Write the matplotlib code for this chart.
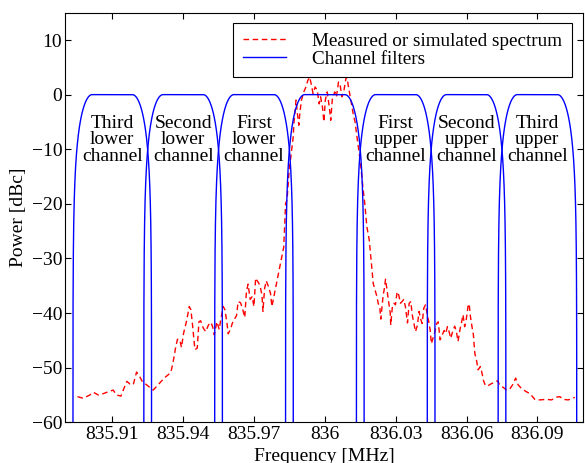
import numpy as np
import matplotlib
matplotlib.use("Agg")
import matplotlib.pyplot as plt

plt.rcParams['font.family'] = ['Liberation Serif', 'DejaVu Serif']
plt.rcParams['font.size'] = 14

# spectrum: offset from 836 MHz in kHz, power in dBc
spec_khz = [
    -104.7, -102.3, -99.5, -98.0, -95.9, -93.4, -91.7, -89.6, -88.2, -86.3,
    -84.6, -83.8, -82.5, -81.1, -79.7, -78.3, -77.3, -75.0, -74.1, -72.7,
    -72.0, -68.8, -68.0, -66.3, -65.2, -64.2, -63.2, -62.4, -61.4, -60.7,
    -59.8, -58.5, -57.4, -56.7, -56.0, -55.4, -55.0, -54.0, -53.3, -52.6,
    -51.4, -50.4, -49.3, -48.2, -47.5, -46.8, -45.7, -44.7, -44.1, -43.0,
    -42.3, -41.5, -40.9, -39.8, -39.2, -38.1, -37.4, -36.7, -35.7, -34.9,
    -33.9, -33.2, -32.5, -31.6, -30.8, -30.0, -29.3, -28.3, -27.5, -26.6,
    -26.2, -25.5, -24.8, -23.8, -23.0, -22.4, -21.3, -20.5, -19.6, -18.8,
    -17.4, -16.6, -16.0, -15.1, -14.4, -13.4, -13.1, -12.2, -11.6, -11.0,
    -10.6, -9.9, -8.9, -8.0, -7.2, -6.4, -5.5, -5.0, -4.1, -3.2,
    -2.4, -1.8, -1.0, -0.4, 0.2, 1.0, 1.9, 2.5, 3.2, 4.2,
    4.9, 5.8, 6.4, 7.2, 8.0, 8.9, 9.4, 10.0, 10.9, 12.0,
    12.8, 13.8, 14.5, 15.4, 16.1, 16.9, 17.8, 18.8, 19.6, 20.5,
    21.5, 22.0, 22.6, 23.3, 23.7, 24.7, 25.1, 25.7, 26.5, 27.1,
    27.7, 27.9, 28.6, 29.3, 29.9, 30.6, 31.3, 32.0, 32.7, 33.4,
    34.1, 35.0, 35.7, 36.4, 37.0, 37.7, 38.4, 39.2, 39.9, 40.5,
    41.2, 41.9, 42.6, 43.3, 44.0, 44.6, 45.1, 45.8, 46.6, 47.4,
    48.0, 48.8, 49.7, 50.5, 51.2, 51.9, 52.6, 53.3, 54.3, 55.0,
    55.7, 56.4, 57.3, 57.8, 58.5, 59.2, 59.9, 60.6, 61.1, 61.6,
    62.3, 62.9, 63.5, 64.2, 64.9, 65.8, 66.4, 67.2, 68.0, 69.1,
    70.2, 71.7, 73.1, 74.2, 75.5, 76.9, 78.3, 79.7, 80.8, 81.8,
    83.2, 85.3, 86.7, 88.9, 91.0, 93.8, 96.0, 98.0, 99.5, 100.9,
    103.0, 105.1, 105.8,
]
spec_db = [
    -55.3, -55.6, -55.0, -54.5, -55.0, -54.7, -54.4, -54.1, -55.0, -55.2,
    -53.3, -52.5, -53.0, -53.1, -50.8, -51.7, -52.5, -53.3, -53.6, -54.1,
    -53.8, -52.3, -51.9, -51.3, -50.9, -48.9, -46.4, -44.8, -44.9, -46.3,
    -43.7, -41.4, -38.8, -39.4, -42.2, -44.9, -46.7, -46.4, -41.6, -41.4,
    -42.8, -43.4, -42.2, -41.7, -42.5, -44.0, -41.6, -43.0, -41.3, -38.8,
    -39.4, -41.6, -43.8, -42.8, -41.9, -41.0, -40.5, -37.9, -38.1, -39.1,
    -40.8, -36.1, -34.7, -37.5, -37.0, -38.8, -33.6, -34.3, -34.9, -36.7,
    -39.7, -35.5, -34.1, -35.2, -36.4, -38.8, -36.4, -34.6, -32.7, -31.0,
    -27.9, -19.9, -19.3, -13.8, -11.4, -7.8, -5.3, -1.0, -3.5, -5.6,
    -3.5, -1.0, 0.5, 1.4, 2.6, 3.2, 1.4, 0.2, 1.4, 0.8,
    -1.7, -0.4, -2.3, -5.0, -1.0, 0.5, -2.3, -4.7, -0.7, 0.5,
    -0.4, 2.3, 2.0, -0.4, 0.5, 2.9, 3.2, 1.4, -0.7, -3.5,
    -5.0, -8.4, -10.5, -13.8, -16.9, -19.9, -24.2, -26.6, -30.3, -34.6,
    -36.1, -36.9, -38.2, -39.1, -41.1, -36.7, -35.8, -33.8, -36.4, -38.2,
    -40.0, -42.2, -38.8, -38.2, -38.5, -36.1, -36.7, -38.2, -37.9, -37.5,
    -38.8, -41.8, -38.2, -37.9, -40.3, -41.9, -43.4, -42.2, -39.7, -41.0,
    -41.9, -39.1, -38.5, -40.0, -41.6, -43.1, -45.6, -44.6, -43.4, -41.9,
    -41.6, -44.9, -44.0, -43.2, -43.7, -42.5, -43.4, -44.6, -43.1, -42.4,
    -43.4, -45.2, -42.8, -41.9, -40.3, -42.5, -41.1, -38.8, -38.3, -40.5,
    -42.5, -44.0, -47.4, -48.6, -50.4, -49.8, -50.7, -52.4, -53.3, -53.3,
    -53.0, -52.7, -52.4, -53.3, -53.6, -54.1, -53.9, -53.0, -51.9, -53.1,
    -53.8, -54.4, -54.7, -55.8, -55.9, -55.8, -55.9, -55.4, -55.3, -55.8,
    -55.9, -55.6, -55.4,
]

# channel filters
channel_centers = [835.91, 835.94, 835.97, 836.00, 836.03, 836.06, 836.09]
channel_names = [
    'Third\nlower\nchannel', 'Second\nlower\nchannel', 'First\nlower\nchannel',
    '', 'First\nupper\nchannel', 'Second\nupper\nchannel', 'Third\nupper\nchannel',
]
flat_half = 0.0085   # MHz, flat passband half width
edge_half = 0.01665  # MHz, where the raised cosine reaches zero

xtick_pos = [835.91, 835.94, 835.97, 836.00, 836.03, 836.06, 836.09]
xtick_labels = ['835.91', '835.94', '835.97', '836', '836.03', '836.06', '836.09']
ytick_pos = [10, 0, -10, -20, -30, -40, -50, -60]

fig = plt.figure(figsize=(5.85, 4.63), dpi=100)
ax = fig.add_axes([65 / 585, 40.7 / 463, 518 / 585, 409.6 / 463])

freq = 836 + np.array(spec_khz) / 1000
ax.plot(freq, spec_db, color='red', linestyle=(0, (4, 2.6)), linewidth=1.0,
        label='Measured or simulated spectrum')

df = np.linspace(-edge_half, edge_half, 1601)
u = np.clip((np.abs(df) - flat_half) / (edge_half - flat_half), 0, 1)
resp = 0.5 * (1 + np.cos(np.pi * u))
resp_db = 10 * np.log10(np.maximum(resp, 1e-12))

for i, c in enumerate(channel_centers):
    ax.plot(c + df, resp_db, color='blue', linewidth=1.0,
            label='Channel filters' if i == 0 else None)
    if channel_names[i]:
        ax.text(c, -8.3, channel_names[i], ha='center', va='center',
                multialignment='center', linespacing=0.93, fontsize=14)

ax.set_xlim(835.89, 836.1093)
ax.set_ylim(-60, 15)
ax.set_xticks(xtick_pos)
ax.set_xticklabels(xtick_labels)
ax.set_yticks(ytick_pos)
ax.tick_params(direction='in', length=4, width=0.8, top=True, right=True,
               labelsize=14, pad=3)
ax.tick_params(axis='y', pad=2)
for s in ax.spines.values():
    s.set_linewidth(0.8)

ax.set_xlabel('Frequency [MHz]', fontsize=14)
ax.xaxis.set_label_coords(0.5, -0.062)
ax.set_ylabel('Power [dBc]', fontsize=14)
ax.yaxis.set_label_coords(-0.073, 0.5)

leg = ax.legend(loc='upper right', bbox_to_anchor=(0.978, 0.976), borderaxespad=0,
                fancybox=False, edgecolor='black', framealpha=1, fontsize=13.8,
                handlelength=2.25, handletextpad=1.35, labelspacing=0.05,
                borderpad=0.5)
leg.get_frame().set_linewidth(0.8)

fig.savefig('out.png', dpi=100)
